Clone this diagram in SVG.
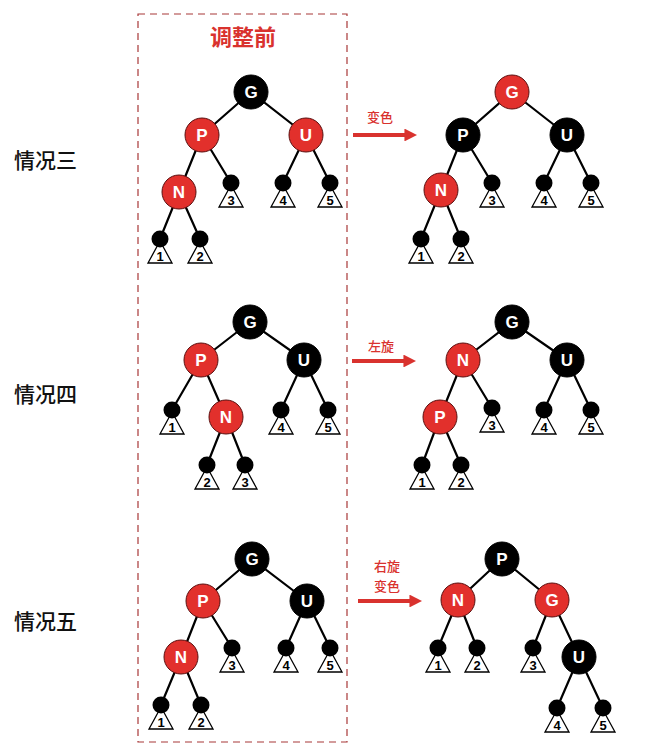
<svg xmlns="http://www.w3.org/2000/svg" width="649" height="754" viewBox="0 0 649 754">
<style>
.edge{stroke:#000;stroke-width:2.2;fill:none}
.red{fill:#e2302c;stroke:#5a1010;stroke-width:1}
.blk{fill:#000;stroke:#000;stroke-width:1}
.lbl{font-family:"Liberation Sans",Arial,sans-serif;font-weight:bold;font-size:17px;fill:#fff;text-anchor:middle}
.tri{fill:#fff;stroke:#000;stroke-width:1.3}
.dot{fill:#000}
.num{font-family:"Liberation Sans",Arial,sans-serif;font-size:13px;font-weight:bold;fill:#000;text-anchor:middle}
.case{font-family:"Noto Sans CJK SC","Noto Sans CJK JP",sans-serif;font-size:21px;font-weight:500;fill:#111}
.op{font-family:"Noto Sans CJK SC","Noto Sans CJK JP",sans-serif;font-size:13px;font-weight:500;fill:#d9322e;text-anchor:middle}
.arrow{stroke:#d9322e;stroke-width:4;fill:none}
</style>
<defs>
<marker id="ah" viewBox="0 0 10 10" refX="2" refY="5" markerWidth="3.2" markerHeight="3.2" orient="auto" markerUnits="strokeWidth">
<path d="M0,0 L10,5 L0,10 z" fill="#d9322e"/>
</marker>
<g id="leaf">
<polygon class="tri" points="0,2 -12,24 12,24"/>
<circle class="dot" r="8.5"/>
</g>
</defs>
<rect width="649" height="754" fill="#fff"/>
<rect x="138" y="14" width="209" height="728" fill="none" stroke="#a83838" stroke-width="1.2" stroke-dasharray="7,5"/>
<text x="243" y="45" font-family="'Noto Sans CJK SC','Noto Sans CJK JP',sans-serif" font-size="22" font-weight="bold" fill="#d9322e" text-anchor="middle">调整前</text>
<text class="case" x="14" y="168">情况三</text>
<text class="case" x="14" y="402">情况四</text>
<text class="case" x="14" y="629">情况五</text>

<g id="connectors">
<path class="edge" d="M251,92L202,135M251,92L306,135M202,135L179,192M202,135L231,183M306,135L283,183M306,135L330,183M179,192L160,239M179,192L200,239"/>
<path class="edge" d="M512,92L463,135M512,92L567,135M463,135L441,190M463,135L492,183M567,135L544,183M567,135L591,183M441,190L421,239M441,190L461,239"/>
<path class="edge" d="M250,322L201,360M250,322L304,360M201,360L172,410M201,360L226,417M304,360L281,410M304,360L328,410M226,417L207,465M226,417L245,465"/>
<path class="edge" d="M512,322L463,360M512,322L567,360M463,360L440,417M463,360L492,408M567,360L544,410M567,360L591,410M440,417L422,465M440,417L461,465"/>
<path class="edge" d="M252,559L203,601M252,559L307,601M203,601L181,657M203,601L232,648M307,601L286,648M307,601L330,648M181,657L161,705M181,657L201,705"/>
<path class="edge" d="M502,559L458,600M502,559L552,600M458,600L438,648M458,600L477,648M552,600L533,648M552,600L579,657M579,657L557,708M579,657L603,708"/>
<line class="arrow" x1="353" y1="135" x2="407" y2="135" marker-end="url(#ah)"/>
<line class="arrow" x1="352" y1="361" x2="406" y2="361" marker-end="url(#ah)"/>
<line class="arrow" x1="358" y1="601" x2="412" y2="601" marker-end="url(#ah)"/>
</g>
<text class="op" x="380" y="122">变色</text>
<text class="op" x="381" y="351">左旋</text>
<text class="op" x="387" y="571">右旋</text>
<text class="op" x="387" y="591">变色</text>

<g id="a-G"><circle class="blk" cx="251" cy="92" r="17"/><text class="lbl" x="251" y="98">G</text></g>
<g id="a-P"><circle class="red" cx="202" cy="135" r="17"/><text class="lbl" x="202" y="141">P</text></g>
<g id="a-U"><circle class="red" cx="306" cy="135" r="17"/><text class="lbl" x="306" y="141">U</text></g>
<g id="a-N"><circle class="red" cx="179" cy="192" r="17"/><text class="lbl" x="179" y="198">N</text></g>
<g id="a-1"><use href="#leaf" x="160" y="239"/><text class="num" x="160" y="261">1</text></g>
<g id="a-2"><use href="#leaf" x="200" y="239"/><text class="num" x="200" y="261">2</text></g>
<g id="a-3"><use href="#leaf" x="231" y="183"/><text class="num" x="231" y="205">3</text></g>
<g id="a-4"><use href="#leaf" x="283" y="183"/><text class="num" x="283" y="205">4</text></g>
<g id="a-5"><use href="#leaf" x="330" y="183"/><text class="num" x="330" y="205">5</text></g>

<g id="b-G"><circle class="red" cx="512" cy="92" r="17"/><text class="lbl" x="512" y="98">G</text></g>
<g id="b-P"><circle class="blk" cx="463" cy="135" r="17"/><text class="lbl" x="463" y="141">P</text></g>
<g id="b-U"><circle class="blk" cx="567" cy="135" r="17"/><text class="lbl" x="567" y="141">U</text></g>
<g id="b-N"><circle class="red" cx="441" cy="190" r="17"/><text class="lbl" x="441" y="196">N</text></g>
<g id="b-1"><use href="#leaf" x="421" y="239"/><text class="num" x="421" y="261">1</text></g>
<g id="b-2"><use href="#leaf" x="461" y="239"/><text class="num" x="461" y="261">2</text></g>
<g id="b-3"><use href="#leaf" x="492" y="183"/><text class="num" x="492" y="205">3</text></g>
<g id="b-4"><use href="#leaf" x="544" y="183"/><text class="num" x="544" y="205">4</text></g>
<g id="b-5"><use href="#leaf" x="591" y="183"/><text class="num" x="591" y="205">5</text></g>

<g id="c-G"><circle class="blk" cx="250" cy="322" r="17"/><text class="lbl" x="250" y="328">G</text></g>
<g id="c-P"><circle class="red" cx="201" cy="360" r="17"/><text class="lbl" x="201" y="366">P</text></g>
<g id="c-U"><circle class="blk" cx="304" cy="360" r="17"/><text class="lbl" x="304" y="366">U</text></g>
<g id="c-N"><circle class="red" cx="226" cy="417" r="17"/><text class="lbl" x="226" y="423">N</text></g>
<g id="c-1"><use href="#leaf" x="172" y="410"/><text class="num" x="172" y="432">1</text></g>
<g id="c-2"><use href="#leaf" x="207" y="465"/><text class="num" x="207" y="487">2</text></g>
<g id="c-3"><use href="#leaf" x="245" y="465"/><text class="num" x="245" y="487">3</text></g>
<g id="c-4"><use href="#leaf" x="281" y="410"/><text class="num" x="281" y="432">4</text></g>
<g id="c-5"><use href="#leaf" x="328" y="410"/><text class="num" x="328" y="432">5</text></g>

<g id="d-G"><circle class="blk" cx="512" cy="322" r="17"/><text class="lbl" x="512" y="328">G</text></g>
<g id="d-N"><circle class="red" cx="463" cy="360" r="17"/><text class="lbl" x="463" y="366">N</text></g>
<g id="d-U"><circle class="blk" cx="567" cy="360" r="17"/><text class="lbl" x="567" y="366">U</text></g>
<g id="d-P"><circle class="red" cx="440" cy="417" r="17"/><text class="lbl" x="440" y="423">P</text></g>
<g id="d-1"><use href="#leaf" x="422" y="465"/><text class="num" x="422" y="487">1</text></g>
<g id="d-2"><use href="#leaf" x="461" y="465"/><text class="num" x="461" y="487">2</text></g>
<g id="d-3"><use href="#leaf" x="492" y="408"/><text class="num" x="492" y="430">3</text></g>
<g id="d-4"><use href="#leaf" x="544" y="410"/><text class="num" x="544" y="432">4</text></g>
<g id="d-5"><use href="#leaf" x="591" y="410"/><text class="num" x="591" y="432">5</text></g>

<g id="e-G"><circle class="blk" cx="252" cy="559" r="17"/><text class="lbl" x="252" y="565">G</text></g>
<g id="e-P"><circle class="red" cx="203" cy="601" r="17"/><text class="lbl" x="203" y="607">P</text></g>
<g id="e-U"><circle class="blk" cx="307" cy="601" r="17"/><text class="lbl" x="307" y="607">U</text></g>
<g id="e-N"><circle class="red" cx="181" cy="657" r="17"/><text class="lbl" x="181" y="663">N</text></g>
<g id="e-1"><use href="#leaf" x="161" y="705"/><text class="num" x="161" y="727">1</text></g>
<g id="e-2"><use href="#leaf" x="201" y="705"/><text class="num" x="201" y="727">2</text></g>
<g id="e-3"><use href="#leaf" x="232" y="648"/><text class="num" x="232" y="670">3</text></g>
<g id="e-4"><use href="#leaf" x="286" y="648"/><text class="num" x="286" y="670">4</text></g>
<g id="e-5"><use href="#leaf" x="330" y="648"/><text class="num" x="330" y="670">5</text></g>

<g id="f-P"><circle class="blk" cx="502" cy="559" r="17"/><text class="lbl" x="502" y="565">P</text></g>
<g id="f-N"><circle class="red" cx="458" cy="600" r="17"/><text class="lbl" x="458" y="606">N</text></g>
<g id="f-G"><circle class="red" cx="552" cy="600" r="17"/><text class="lbl" x="552" y="606">G</text></g>
<g id="f-U"><circle class="blk" cx="579" cy="657" r="17"/><text class="lbl" x="579" y="663">U</text></g>
<g id="f-1"><use href="#leaf" x="438" y="648"/><text class="num" x="438" y="670">1</text></g>
<g id="f-2"><use href="#leaf" x="477" y="648"/><text class="num" x="477" y="670">2</text></g>
<g id="f-3"><use href="#leaf" x="533" y="648"/><text class="num" x="533" y="670">3</text></g>
<g id="f-4"><use href="#leaf" x="557" y="708"/><text class="num" x="557" y="730">4</text></g>
<g id="f-5"><use href="#leaf" x="603" y="708"/><text class="num" x="603" y="730">5</text></g>
</svg>
